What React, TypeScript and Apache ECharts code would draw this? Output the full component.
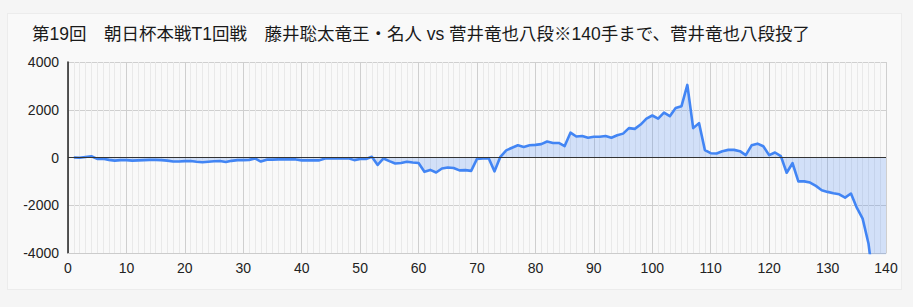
import React, { useEffect, useRef } from "react";
import * as echarts from "echarts";

const TITLE = "第19回　朝日杯本戦T1回戦　藤井聡太竜王・名人 vs 菅井竜也八段※140手まで、菅井竜也八段投了";

// evaluation values for moves 1..140
const evals: number[] = [
  0, -10, 20, 50, -60, -50, -100, -130, -110, -110,
  -130, -120, -110, -100, -100, -110, -130, -170, -170, -150,
  -150, -180, -200, -180, -160, -150, -190, -140, -110, -110,
  -100, -40, -170, -90, -90, -80, -80, -80, -80, -120,
  -120, -120, -120, -40, -40, -40, -40, -30, -110, -60,
  -60, 30, -310, -40, -150, -250, -230, -180, -210, -230,
  -600, -520, -630, -460, -420, -440, -540, -530, -560, -60,
  -40, -30, -580, 30, 300, 410, 510, 440, 510, 530,
  560, 670, 610, 610, 480, 1040, 880, 900, 830, 870,
  870, 900, 830, 930, 1000, 1230, 1200, 1380, 1630, 1760,
  1630, 1880, 1730, 2070, 2150, 3040, 1230, 1440, 310, 180,
  170, 265, 320, 320, 265, 100, 510, 580, 470, 100,
  210, 60, -640, -240, -1000, -1000, -1050, -1190, -1370, -1440,
  -1500, -1540, -1680, -1510, -2100, -2560, -3600, -5500, -7000, -9000,
];
const firstMove = 1;

const xTicks = { min: 0, max: 140, interval: 10 };
const yTicks = { min: -4000, max: 4000, interval: 2000 };

export default function App() {
  const ref = useRef<HTMLDivElement>(null);
  useEffect(() => {
    document.body.style.margin = "0";
    const chart = echarts.init(ref.current!, undefined, { renderer: "svg" });
    const data = evals.map((v, i) => [firstMove + i, v]);
    const font = "'Liberation Sans', Arial, 'Noto Sans CJK JP', sans-serif";
    chart.setOption({
      animation: false,
      backgroundColor: "transparent",
      title: {
        text: TITLE,
        left: 32,
        top: 25,
        padding: 0,
        textStyle: { fontSize: 17.5, fontWeight: "normal", color: "#1a1a1a", fontFamily: font },
      },
      grid: { left: 68, right: 27, top: 62, bottom: 54, containLabel: false, outerBoundsMode: "none" },
      xAxis: {
        type: "value",
        min: xTicks.min,
        max: xTicks.max,
        interval: xTicks.interval,
        axisLine: { show: true, onZero: false, lineStyle: { color: "#cccccc", width: 1 } },
        axisTick: { show: false },
        axisLabel: { color: "#222", fontSize: 14, margin: 8, fontFamily: font },
        splitLine: { show: true, lineStyle: { color: "#cfcfcf", width: 1 } },
        minorTick: { show: false, splitNumber: 10 },
        minorSplitLine: { show: true, lineStyle: { color: "#e9e9e9", width: 1 } },
      },
      yAxis: {
        type: "value",
        min: yTicks.min,
        max: yTicks.max,
        interval: yTicks.interval,
        axisLine: { show: true, lineStyle: { color: "#222", width: 1.5 } },
        axisTick: { show: false },
        axisLabel: {
          color: "#222",
          fontSize: 14,
          margin: 9,
          fontFamily: font,
          formatter: (v: number) => String(v),
        },
        splitLine: { show: true, lineStyle: { color: "#cfcfcf", width: 1 } },
      },
      series: [
        {
          type: "line",
          data,
          showSymbol: false,
          symbol: "none",
          clip: true,
          lineStyle: { color: "#4285f4", width: 2.6, join: "round" },
          areaStyle: { color: "rgba(66,133,244,0.3)" },
          markLine: {
            silent: true,
            symbol: "none",
            label: { show: false },
            lineStyle: { color: "#333", width: 1, type: "solid" },
            data: [{ yAxis: 0 }],
          },
        },
      ],
    });
    return () => chart.dispose();
  }, []);
  return (
    <div style={{ position: "absolute", left: 0, top: 0, width: 913, height: 307, background: "#f5f5f5" }}>
      <div
        style={{
          position: "absolute",
          left: 7,
          top: 13,
          width: 893,
          height: 275,
          background: "#f9f9f9",
          border: "1px solid #ececec",
        }}
      />
      <div ref={ref} style={{ position: "absolute", left: 0, top: 0, width: 913, height: 307 }} />
    </div>
  );
}
